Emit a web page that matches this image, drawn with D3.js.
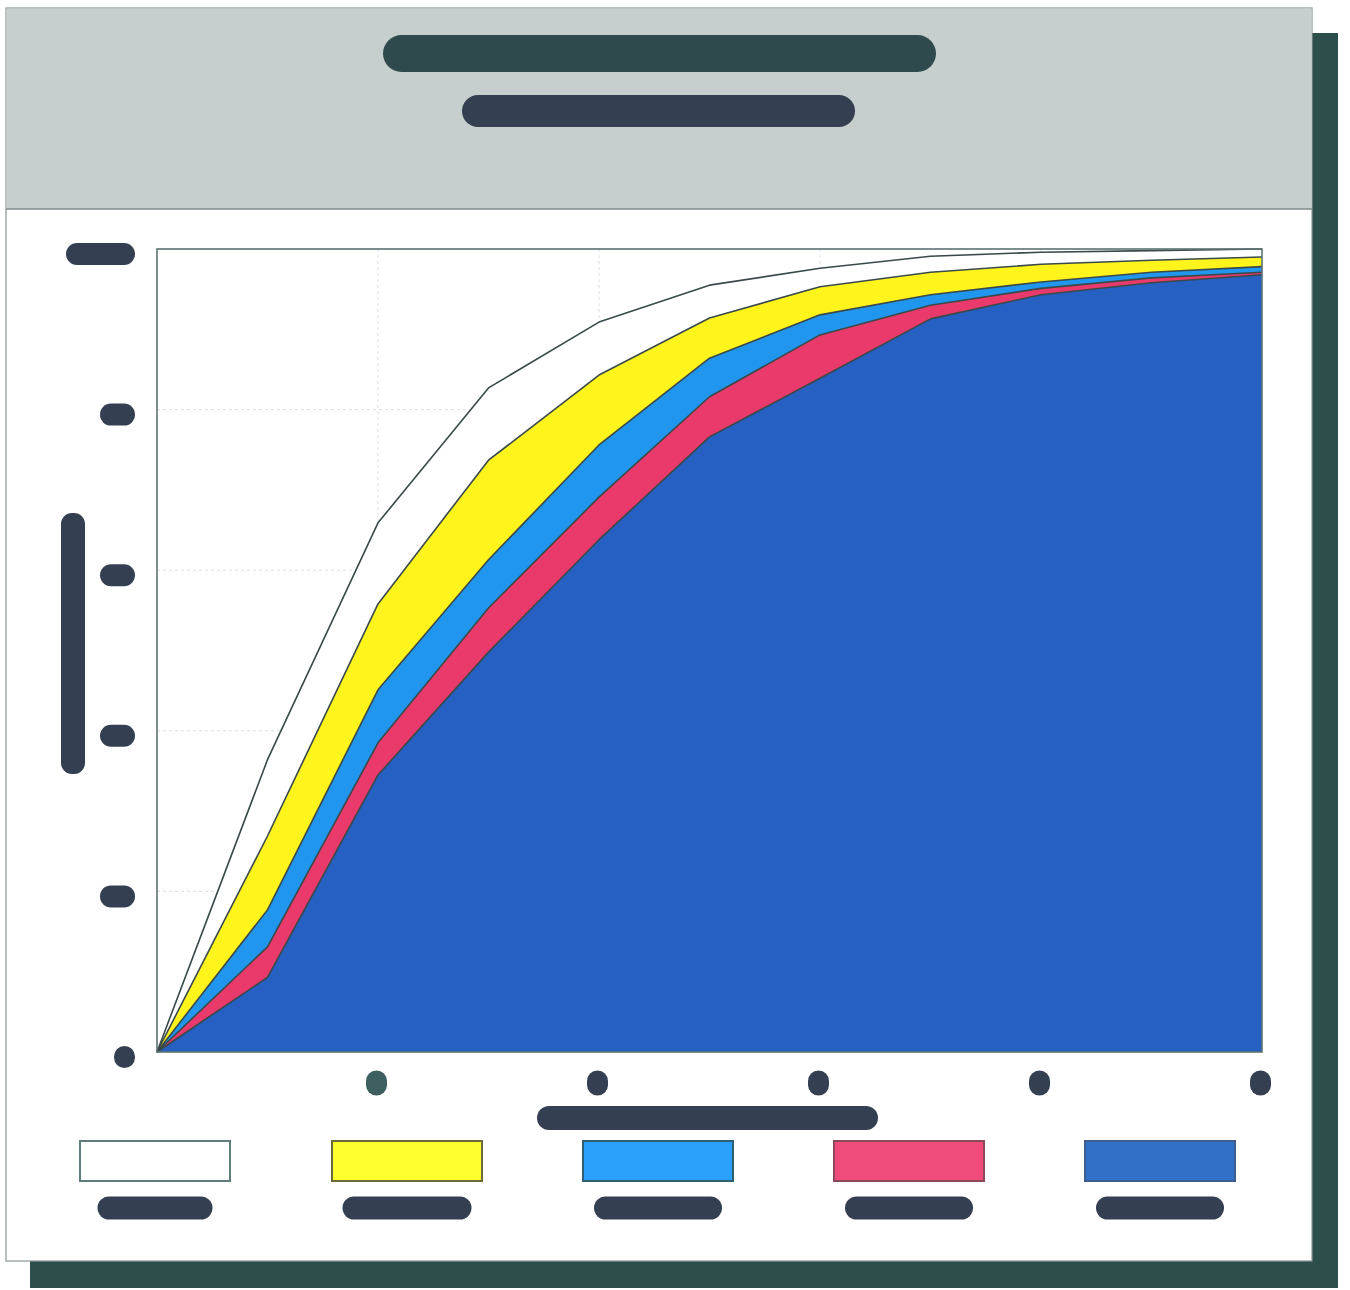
<!DOCTYPE html>
<html>
<head>
<meta charset="utf-8">
<script src="https://cdn.jsdelivr.net/npm/d3@7"></script>
<style>
  html, body { margin: 0; padding: 0; background: #ffffff; }
  svg { display: block; }
</style>
</head>
<body>
<svg id="chart" width="1350" height="1290"></svg>
<script>
// ---- data -------------------------------------------------------------
const xSteps = [0, 0.5, 1, 1.5, 2, 2.5, 3, 3.5, 4, 4.5, 5];
const xTicks = [1, 2, 3, 4, 5];
const yTicks = [0, 20, 40, 60, 80, 100];

// cumulative curves, drawn back to front
const curveWhite  = [0, 36.4, 65.9, 82.7, 90.9, 95.5, 97.6, 99.1, 99.6, 99.8, 100];
const curveYellow = [0, 26.9, 55.8, 73.7, 84.3, 91.4, 95.3, 97.1, 98.1, 98.6, 99.0];
const curveSky    = [0, 17.7, 45.1, 61.3, 75.6, 86.4, 91.8, 94.3, 95.9, 97.1, 97.8];
const curvePink   = [0, 13.1, 38.5, 55.3, 69.1, 81.6, 89.3, 93.0, 95.1, 96.4, 97.1];
const curveBlue   = [0,  9.3, 34.5, 49.8, 63.8, 76.6, 83.9, 91.3, 94.3, 95.8, 96.8];

const curves     = [curveWhite, curveYellow, curveSky, curvePink, curveBlue];
const areaFills  = ["#ffffff", "#fff51c", "#2196ee", "#ea3a6c", "#2560c2"];
const swatchFill = ["#ffffff", "#ffff2e", "#2aa0fa", "#f04b7b", "#3070c6"];
const swatchEdge = ["#5f7c7c", "#6b6b3a", "#2f5f74", "#8a4a5a", "#3b5f8a"];

// ---- layout -----------------------------------------------------------
const svg = d3.select("#chart");
const ink = "#343f51";

const x = d3.scaleLinear().domain([0, 5]).range([157, 1262]);
const y = d3.scaleLinear().domain([0, 100]).range([1052, 249]);

// drop shadow + card
svg.append("rect").attr("x", 30).attr("y", 33).attr("width", 1308).attr("height", 1255)
  .attr("fill", "#2c4f4c");
svg.append("rect").attr("x", 6).attr("y", 8).attr("width", 1306).attr("height", 1253)
  .attr("fill", "#ffffff").attr("stroke", "#8b9797").attr("stroke-width", 1.2);

// header band
svg.append("rect").attr("x", 6.5).attr("y", 8.5).attr("width", 1305).attr("height", 200.5)
  .attr("fill", "#c7cfce");
svg.append("line").attr("x1", 6).attr("x2", 1312).attr("y1", 209).attr("y2", 209)
  .attr("stroke", "#7d8b8a").attr("stroke-width", 1.5);

// pill helper: a rounded text block
function pill(g, cx, cy, w, h, fill, label) {
  g.append("rect")
    .attr("x", cx - w / 2).attr("y", cy - h / 2)
    .attr("width", w).attr("height", h)
    .attr("rx", Math.min(h, w) / 2).attr("ry", Math.min(h, w) / 2)
    .attr("fill", fill);
  if (label !== undefined) {
    g.append("text")
      .attr("x", cx).attr("y", cy)
      .attr("text-anchor", "middle").attr("dominant-baseline", "central")
      .attr("font-family", "Liberation Sans, Arial, sans-serif")
      .attr("font-size", Math.round(h * 0.9)).attr("font-weight", "bold")
      .attr("fill", fill)
      .text(label);
  }
}

const header = svg.append("g");
pill(header, 659.5, 53.5, 553, 37, "#2f4a4c");
pill(header, 658.5, 111, 393, 32, ink);

// plot background
svg.append("rect").attr("x", x(0)).attr("y", y(100))
  .attr("width", x(5) - x(0)).attr("height", y(0) - y(100)).attr("fill", "#ffffff");

// faint gridlines
const grid = svg.append("g").attr("stroke", "#d9e1e1").attr("stroke-width", 1)
  .attr("stroke-dasharray", "3,3");
grid.selectAll("line.h").data(yTicks.filter(d => d > 0 && d < 100)).join("line")
  .attr("x1", x(0)).attr("x2", x(5)).attr("y1", d => y(d)).attr("y2", d => y(d));
grid.selectAll("line.v").data(xTicks.filter(d => d < 5)).join("line")
  .attr("x1", d => x(d)).attr("x2", d => x(d)).attr("y1", y(100)).attr("y2", y(0));

// areas
const area = d3.area()
  .x((d, i) => x(xSteps[i]))
  .y0(y(0))
  .y1(d => y(d));
const line = d3.line()
  .x((d, i) => x(xSteps[i]))
  .y(d => y(d));

const plot = svg.append("g");
curves.forEach((c, k) => {
  plot.append("path").attr("d", area(c)).attr("fill", areaFills[k]);
  plot.append("path").attr("d", line(c)).attr("fill", "none")
    .attr("stroke", "#3a4949").attr("stroke-width", 1.6).attr("stroke-linejoin", "round");
});

// plot frame
svg.append("rect").attr("x", x(0)).attr("y", y(100))
  .attr("width", x(5) - x(0)).attr("height", y(0) - y(100))
  .attr("fill", "none").attr("stroke", "#5d7272").attr("stroke-width", 1.6);

// y tick labels
const pillWidth = { 1: 21, 2: 35, 3: 69 };
const yAxisG = svg.append("g");
yTicks.forEach(t => {
  const lab = String(t);
  const w = pillWidth[lab.length];
  pill(yAxisG, 135 - w / 2, y(t) + 5, w, 22, ink, lab);
});

// x tick labels
const xAxisG = svg.append("g");
xTicks.forEach((t, i) => {
  pill(xAxisG, x(t) - 1.5, 1083, 21, 25, i === 0 ? "#3d605e" : ink, String(t));
});

// axis titles
pill(svg.append("g"), 707.5, 1118, 341, 24, ink);
const yTitle = svg.append("g");
yTitle.append("rect").attr("x", 61).attr("y", 513).attr("width", 24).attr("height", 261)
  .attr("rx", 11).attr("fill", ink);

// legend
const legendX = [155, 407, 658, 909, 1160];
const legendLabelW = [115, 129, 128, 128, 128];
const legend = svg.append("g");
legendX.forEach((cx, k) => {
  legend.append("rect")
    .attr("x", cx - 75).attr("y", 1141).attr("width", 150).attr("height", 40)
    .attr("fill", swatchFill[k]).attr("stroke", swatchEdge[k]).attr("stroke-width", 2);
  pill(legend, cx, 1208, legendLabelW[k], 23, ink);
});
</script>
</body>
</html>
